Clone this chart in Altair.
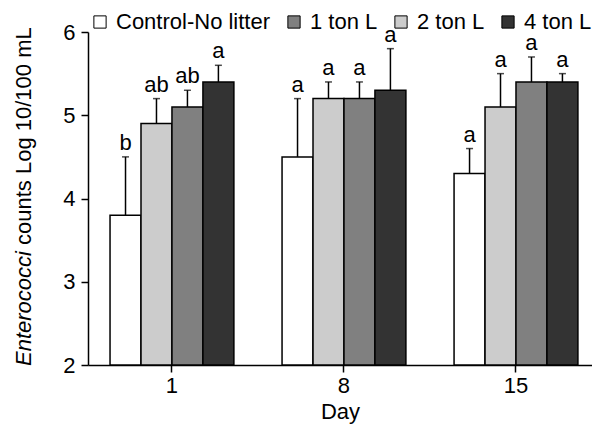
import altair as alt
import pandas as pd

days = ["1", "8", "15"]
series = ["Control-No litter", "1 ton L", "2 ton L", "4 ton L"]
bar_order = ["Control-No litter", "2 ton L", "1 ton L", "4 ton L"]
colors = ["#ffffff", "#808080", "#cccccc", "#333333"]

control_mean = [3.8, 4.5, 4.3]
control_err = [0.7, 0.7, 0.3]
control_letter = ["b", "a", "a"]

two_mean = [4.9, 5.2, 5.1]
two_err = [0.3, 0.2, 0.4]
two_letter = ["ab", "a", "a"]

one_mean = [5.1, 5.2, 5.4]
one_err = [0.2, 0.2, 0.3]
one_letter = ["ab", "a", "a"]

four_mean = [5.4, 5.3, 5.4]
four_err = [0.2, 0.5, 0.1]
four_letter = ["a", "a", "a"]

y_min = 2
y_title_italic = "Enterococci"
y_title_rest = "counts Log 10/100 mL"
x_title = "Day"

rows = []
for name, means, errs, letters in [
    ("Control-No litter", control_mean, control_err, control_letter),
    ("2 ton L", two_mean, two_err, two_letter),
    ("1 ton L", one_mean, one_err, one_letter),
    ("4 ton L", four_mean, four_err, four_letter),
]:
    for d, m, e, l in zip(days, means, errs, letters):
        rows.append({"Day": d, "Group": name, "Mean": m, "Base": y_min,
                     "Top": round(m + e, 3), "Letter": l})
df = pd.DataFrame(rows)

FONT = "Liberation Sans"
H = 333

x_scale = alt.Scale(paddingInner=0.28, paddingOuter=0.105, align=0.61)
x_enc = alt.X("Day:N", sort=days, scale=x_scale,
              axis=alt.Axis(title=x_title, labelAngle=0, tickSize=7, labelPadding=3,
                            titlePadding=5))
xo_enc = alt.XOffset("Group:N", scale=alt.Scale(domain=bar_order, paddingInner=0, paddingOuter=0))
y_scale = alt.Scale(domain=[2, 6], nice=False, zero=False)

base = alt.Chart(df)

bars = base.mark_bar(stroke="black", strokeWidth=1.5).encode(
    x=x_enc,
    xOffset=xo_enc,
    y=alt.Y("Mean:Q", scale=y_scale,
            axis=alt.Axis(title=None, values=[2, 3, 4, 5, 6], format="d", tickSize=7,
                          labelPadding=6)),
    y2="Base:Q",
    color=alt.Color("Group:N", scale=alt.Scale(domain=series, range=colors),
                    legend=alt.Legend(title=None, orient="none", direction="horizontal",
                                      legendX=1, legendY=-21, symbolType="square",
                                      symbolSize=150, symbolStrokeColor="black",
                                      symbolStrokeWidth=1, labelFontSize=22, labelFont=FONT,
                                      labelOffset=5, columnPadding=12, padding=0,
                                      labelLimit=300)),
)

rules = base.mark_rule(color="black", strokeWidth=1.5).encode(
    x=alt.X("Day:N", sort=days), xOffset=xo_enc,
    y=alt.Y("Mean:Q", scale=y_scale), y2="Top:Q",
)

caps = base.mark_tick(color="black", size=7, thickness=1.5).encode(
    x=alt.X("Day:N", sort=days), xOffset=xo_enc,
    y=alt.Y("Top:Q", scale=y_scale),
)

letters = base.mark_text(fontSize=22, font=FONT, baseline="bottom", dy=-2, color="black").encode(
    x=alt.X("Day:N", sort=days), xOffset=xo_enc,
    y=alt.Y("Top:Q", scale=y_scale), text="Letter:N",
)

title_df = pd.DataFrame({"a": [y_title_italic], "b": [y_title_rest]})
t1 = alt.Chart(title_df).mark_text(angle=270, align="left", baseline="alphabetic",
                                   fontSize=22, font=FONT, fontStyle="italic", color="black").encode(
    x=alt.value(-57), y=alt.value(334), text="a:N")
t2 = alt.Chart(title_df).mark_text(angle=270, align="left", baseline="alphabetic",
                                   fontSize=22, font=FONT, color="black").encode(
    x=alt.value(-57), y=alt.value(213), text="b:N")

chart = alt.layer(bars, rules, caps, letters, t1, t2).properties(
    width=504, height=H,
    autosize=alt.AutoSizeParams(type="none"),
    padding={"left": 80, "top": 24, "right": 0, "bottom": 60},
).configure_view(stroke=None).configure_axis(
    labelFont=FONT, titleFont=FONT, labelFontSize=22, titleFontSize=22,
    titleFontWeight="normal", labelColor="black", titleColor="black",
    domainColor="black", tickColor="black", domainWidth=1.5, tickWidth=1.5, grid=False,
)

chart.save("out.html", embed_options={"renderer": "svg", "actions": False})
